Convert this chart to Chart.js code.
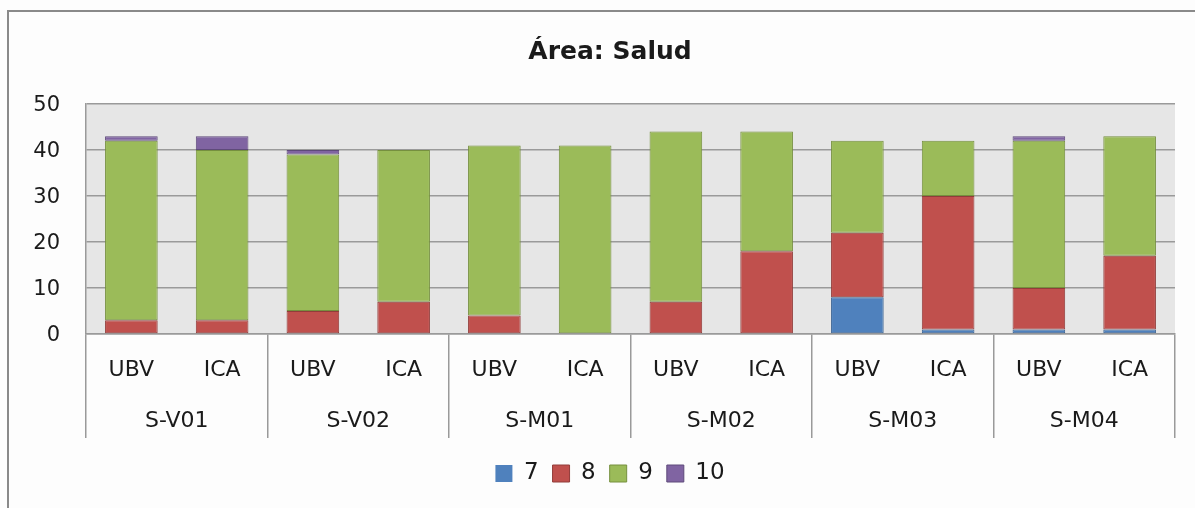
<!DOCTYPE html>
<html>
<head>
<meta charset="utf-8">
<script src="https://cdn.jsdelivr.net/npm/chart.js@4/dist/chart.umd.min.js"></script>
<style>
  html, body { margin: 0; padding: 0; background: #fdfdfd; overflow: hidden; }
  #frame {
    position: absolute; left: 7px; top: 10px; width: 1300px; height: 600px;
    border-left: 2px solid #8a8a8a; border-top: 2px solid #8a8a8a;
  }
  #wrap { position: absolute; left: 0; top: 0; width: 1220px; height: 508px; }
</style>
</head>
<body>
<div id="frame"></div>
<div id="wrap"><canvas id="chart"></canvas></div>
<script>
// categorias y grupos
const bars = ['UBV', 'ICA', 'UBV', 'ICA', 'UBV', 'ICA', 'UBV', 'ICA', 'UBV', 'ICA', 'UBV', 'ICA'];
const groups = ['S-V01', 'S-V02', 'S-M01', 'S-M02', 'S-M03', 'S-M04'];

// valores por nota
const nota7  = [0, 0, 0, 0, 0, 0, 0, 0, 8, 1, 1, 1];
const nota8  = [3, 3, 5, 7, 4, 0, 7, 18, 14, 29, 9, 16];
const nota9  = [39, 37, 34, 33, 37, 41, 37, 26, 20, 12, 32, 26];
const nota10 = [1, 3, 1, 0, 0, 0, 0, 0, 0, 0, 1, 0];

const yTicks = [0, 10, 20, 30, 40, 50];

const gridGray = '#9a9a9a';
const textColor = '#1a1a1a';
const font = 'DejaVu Sans';

const makeSet = (label, data, fill, line) => ({
  label: label,
  data: data,
  backgroundColor: fill,
  borderColor: line,
  borderWidth: ctx => (ctx.raw ? 1 : 0),
  borderSkipped: false,
  categoryPercentage: 1,
  barPercentage: 0.58
});

// fondo gris del area de trazado
const plotBg = {
  id: 'plotBg',
  beforeDraw(chart) {
    const a = chart.chartArea;
    const c = chart.ctx;
    c.save();
    c.fillStyle = '#e6e6e6';
    c.fillRect(a.left, a.top, a.right - a.left, a.bottom - a.top);
    c.restore();
  }
};

new Chart(document.getElementById('chart'), {
  type: 'bar',
  data: {
    labels: bars,
    datasets: [
      makeSet('7', nota7, '#4f81bd', '#3a6292'),
      makeSet('8', nota8, '#c0504d', '#923c3a'),
      makeSet('9', nota9, '#9bbb59', '#76903f'),
      makeSet('10', nota10, '#8064a2', '#5e4a7a')
    ]
  },
  options: {
    responsive: true,
    maintainAspectRatio: false,
    animation: false,
    layout: { padding: { top: 0, right: 0, bottom: 13, left: 0 } },
    plugins: {
      title: {
        display: true,
        text: 'Área: Salud',
        color: textColor,
        font: { family: font, size: 25, weight: 'bold' },
        padding: { top: 37, bottom: 37 }
      },
      legend: {
        position: 'bottom',
        labels: {
          color: textColor,
          font: { family: font, size: 23 },
          boxWidth: 17,
          boxHeight: 17,
          padding: 14
        }
      },
      tooltip: { enabled: false }
    },
    scales: {
      x: {
        stacked: true,
        offset: true,
        weight: 0,
        grid: {
          offset: true,
          drawOnChartArea: false,
          tickLength: 104,
          lineWidth: 1.5,
          color: ctx => (ctx.index === undefined || ctx.index % 2 === 0 ? gridGray : 'rgba(0,0,0,0)')
        },
        border: { display: true, color: gridGray, width: 1.5 },
        ticks: {
          color: textColor,
          font: { family: font, size: 22 },
          maxRotation: 0,
          autoSkip: false,
          padding: -81
        },
        afterFit: s => { s.height = 67; }
      },
      x2: {
        type: 'category',
        position: 'bottom',
        labels: groups,
        offset: true,
        weight: 1,
        grid: { display: false },
        border: { display: false },
        ticks: {
          color: textColor,
          font: { family: font, size: 22 },
          maxRotation: 0,
          autoSkip: false,
          padding: -1
        },
        afterFit: s => { s.height = 47; }
      },
      y: {
        stacked: true,
        min: 0,
        max: 50,
        afterBuildTicks: s => { s.ticks = yTicks.map(v => ({ value: v })); },
        grid: { color: gridGray, lineWidth: 1.5, drawTicks: false },
        border: { display: true, color: gridGray, width: 1.5 },
        ticks: {
          color: textColor,
          font: { family: font, size: 21 },
          padding: 26,
          labelOffset: 2
        },
        afterFit: s => { s.width = 86; }
      },
      // espacio vacio a la derecha del area de trazado
      yRight: {
        position: 'right',
        grid: { display: false },
        border: { display: false },
        ticks: { display: false },
        afterFit: s => { s.width = 45; }
      }
    }
  },
  plugins: [plotBg]
});
</script>
</body>
</html>
